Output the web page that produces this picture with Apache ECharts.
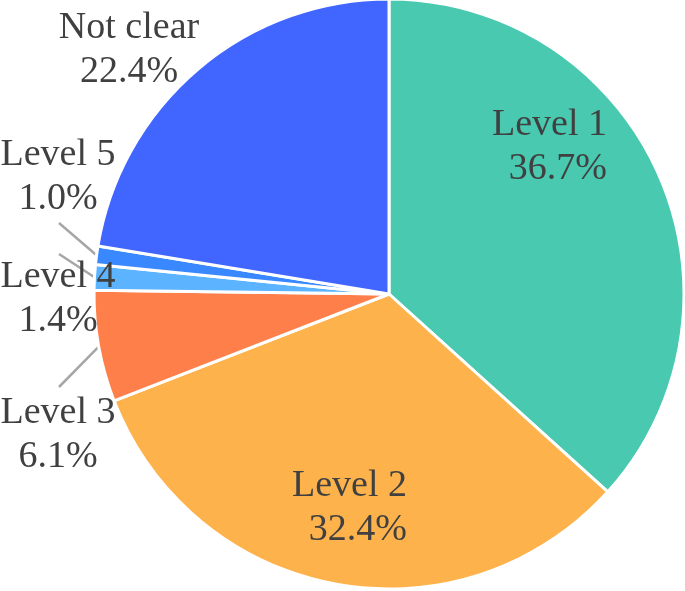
<!DOCTYPE html>
<html>
<head>
<meta charset="utf-8">
<script src="https://cdn.jsdelivr.net/npm/echarts@6/dist/echarts.min.js"></script>
<style>
html,body{margin:0;padding:0;background:#fff;}
#chart{width:685px;height:591px;}
</style>
</head>
<body>
<div id="chart"></div>
<script>
// Data
var categories = ['Level 1', 'Level 2', 'Level 3', 'Level 4', 'Level 5', 'Not clear'];
var values = [36.7, 32.4, 6.1, 1.4, 1.0, 22.4];

// Styles (kept separate from data)
var colors = ['#48C9B0', '#FDB24B', '#FF7F4B', '#5CB3FF', '#3A88FF', '#4066FF'];
// label placement: [x, y, align, lineEndX, lineEndY] (lineEnd null = no line)
var labelPlace = [
  [607, 147, 'right', null, null],
  [407, 508, 'right', null, null],
  [58, 435, 'center', 59, 387],
  [58, 299, 'center', 59, 254],
  [58, 177, 'center', 59, 223],
  [129, 50, 'center', null, null]
];

var data = categories.map(function (c, i) {
  return {
    name: c,
    value: values[i],
    itemStyle: { color: colors[i] },
    label: { position: i < 2 ? 'inside' : 'outside' },
    labelLine: { show: labelPlace[i][3] !== null }
  };
});

var chart = echarts.init(document.getElementById('chart'), null, { renderer: 'canvas' });
chart.setOption({
  animation: false,
  series: [{
    type: 'pie',
    center: [389, 294],
    radius: [0, 295],
    startAngle: 90,
    clockwise: true,
    avoidLabelOverlap: false,
    data: data,
    itemStyle: { borderColor: '#ffffff', borderWidth: 3 },
    label: {
      formatter: function (p) { return p.name + '\n' + p.value.toFixed(1) + '%'; },
      fontFamily: '"Liberation Serif", serif',
      fontSize: 38,
      lineHeight: 44,
      color: '#404040'
    },
    labelLine: {
      length: 10,
      length2: 0,
      lineStyle: { color: '#a6a6a6', width: 2.5 }
    },
    labelLayout: function (params) {
      var lp = labelPlace[params.dataIndex];
      var res = { x: lp[0], y: lp[1], align: lp[2], verticalAlign: 'middle', hideOverlap: false };
      if (lp[3] !== null && params.labelLinePoints) {
        var s = params.labelLinePoints[0];
        res.labelLinePoints = [s, [lp[3], lp[4]], [lp[3], lp[4]]];
      }
      return res;
    }
  }]
});
</script>
</body>
</html>
